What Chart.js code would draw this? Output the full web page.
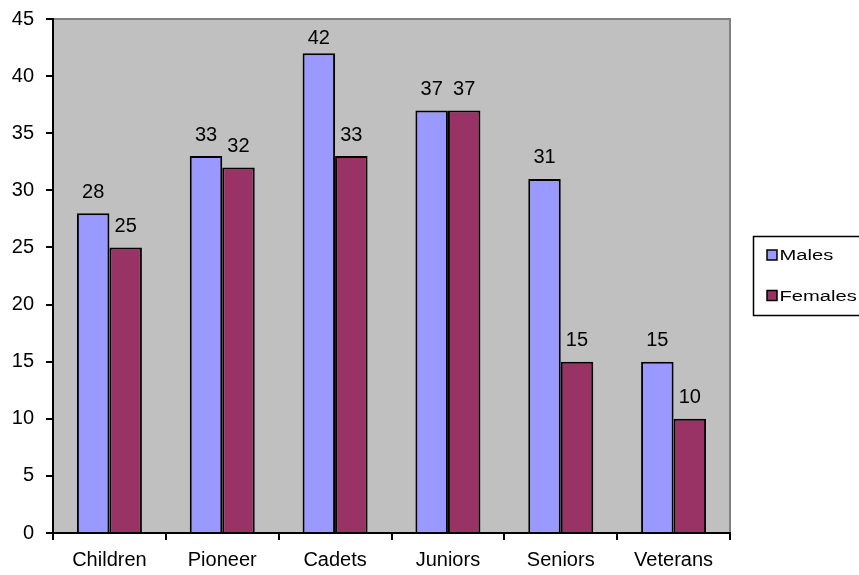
<!DOCTYPE html>
<html>
<head>
<meta charset="utf-8">
<script src="https://cdn.jsdelivr.net/npm/chart.js@4/dist/chart.umd.min.js"></script>
<style>
  html, body { margin: 0; padding: 0; background: #fff; }
  #wrap { width: 859px; height: 575px; }
</style>
</head>
<body>
<div id="wrap"><canvas id="c" width="859" height="575"></canvas></div>
<script>
const categories = ['Children', 'Pioneer', 'Cadets', 'Juniors', 'Seniors', 'Veterans'];
const males = [28, 33, 42, 37, 31, 15];
const females = [25, 32, 33, 37, 15, 10];
const seriesNames = ['Males', 'Females'];
const yTicks = [0, 5, 10, 15, 20, 25, 30, 35, 40, 45];

const FONT = "'Liberation Sans', Arial, sans-serif";
const MALE_COLOR = '#9999FF';
const FEMALE_COLOR = '#993366';

const bgPlugin = {
  id: 'plotBg',
  beforeDraw(chart) {
    const { ctx, chartArea: a } = chart;
    ctx.save();
    ctx.fillStyle = '#fff';
    ctx.fillRect(0, 0, chart.width, chart.height);
    ctx.fillStyle = '#C0C0C0';
    ctx.fillRect(a.left, a.top, a.right - a.left, a.bottom - a.top);
    ctx.strokeStyle = '#808080';
    ctx.lineWidth = 2;
    ctx.beginPath();
    ctx.moveTo(a.left, a.top);
    ctx.lineTo(a.right, a.top);
    ctx.lineTo(a.right, a.bottom);
    ctx.stroke();
    ctx.restore();
  }
};

const labelPlugin = {
  id: 'valueLabels',
  afterDatasetsDraw(chart) {
    const { ctx, chartArea: a } = chart;
    ctx.save();
    ctx.font = '20px ' + FONT;
    ctx.fillStyle = '#000';
    ctx.textAlign = 'center';
    ctx.textBaseline = 'alphabetic';
    chart.data.datasets.forEach((ds, i) => {
      const meta = chart.getDatasetMeta(i);
      meta.data.forEach((bar, j) => {
        let y = bar.y - 15.5;
        const minY = a.top + 25;
        if (y < minY) y = minY;
        ctx.fillText(String(ds.data[j]), bar.x, y);
      });
    });
    ctx.restore();
  }
};

const legendPlugin = {
  id: 'boxLegend',
  afterDraw(chart) {
    const { ctx } = chart;
    ctx.save();
    ctx.strokeStyle = '#000';
    ctx.lineWidth = 1.5;
    ctx.strokeRect(753.5, 236.5, 112, 79);
    const rows = [260, 300.5];
    chart.data.datasets.forEach((ds, i) => {
      const by = rows[i] - 10;
      ctx.fillStyle = ds.backgroundColor;
      ctx.fillRect(767, by, 10, 10);
      ctx.lineWidth = 1.5;
      ctx.strokeRect(767, by, 10, 10);
      ctx.save();
      ctx.translate(779.5, rows[i]);
      ctx.scale(1.3, 1);
      ctx.fillStyle = '#000';
      ctx.font = '15.5px ' + FONT;
      ctx.textBaseline = 'alphabetic';
      ctx.fillText(ds.label, 0, 0);
      ctx.restore();
    });
    ctx.restore();
  }
};

new Chart(document.getElementById('c'), {
  type: 'bar',
  data: {
    labels: categories,
    datasets: [
      { label: seriesNames[0], data: males, backgroundColor: MALE_COLOR, borderColor: '#000', borderWidth: 2 },
      { label: seriesNames[1], data: females, backgroundColor: FEMALE_COLOR, borderColor: '#000', borderWidth: 2 }
    ]
  },
  options: {
    responsive: false,
    animation: false,
    devicePixelRatio: 1,
    layout: { padding: { left: 0, right: 129, top: 19, bottom: 0 } },
    datasets: { bar: { categoryPercentage: 0.576, barPercentage: 1.0 } },
    plugins: { legend: { display: false }, tooltip: { enabled: false } },
    scales: {
      x: {
        afterFit(s) { s.height = 42; s.paddingLeft = 0; s.paddingRight = 0; },
        grid: { display: true, offset: true, drawOnChartArea: false, drawTicks: true, tickLength: 7, color: '#000', lineWidth: 2 },
        border: { display: true, color: '#000', width: 2 },
        ticks: { color: '#000', font: { family: FONT, size: 20 }, padding: 8, maxRotation: 0 }
      },
      y: {
        min: 0, max: 45,
        afterFit(s) { s.width = 53; s.paddingTop = 0; s.paddingBottom = 0; },
        afterBuildTicks(s) { s.ticks = yTicks.map(v => ({ value: v })); },
        grid: { display: true, drawOnChartArea: false, drawTicks: true, tickLength: 7, color: '#000', lineWidth: 2 },
        border: { display: true, color: '#000', width: 2 },
        ticks: { color: '#000', font: { family: FONT, size: 20 }, padding: 12 }
      }
    }
  },
  plugins: [bgPlugin, labelPlugin, legendPlugin]
});
</script>
</body>
</html>
